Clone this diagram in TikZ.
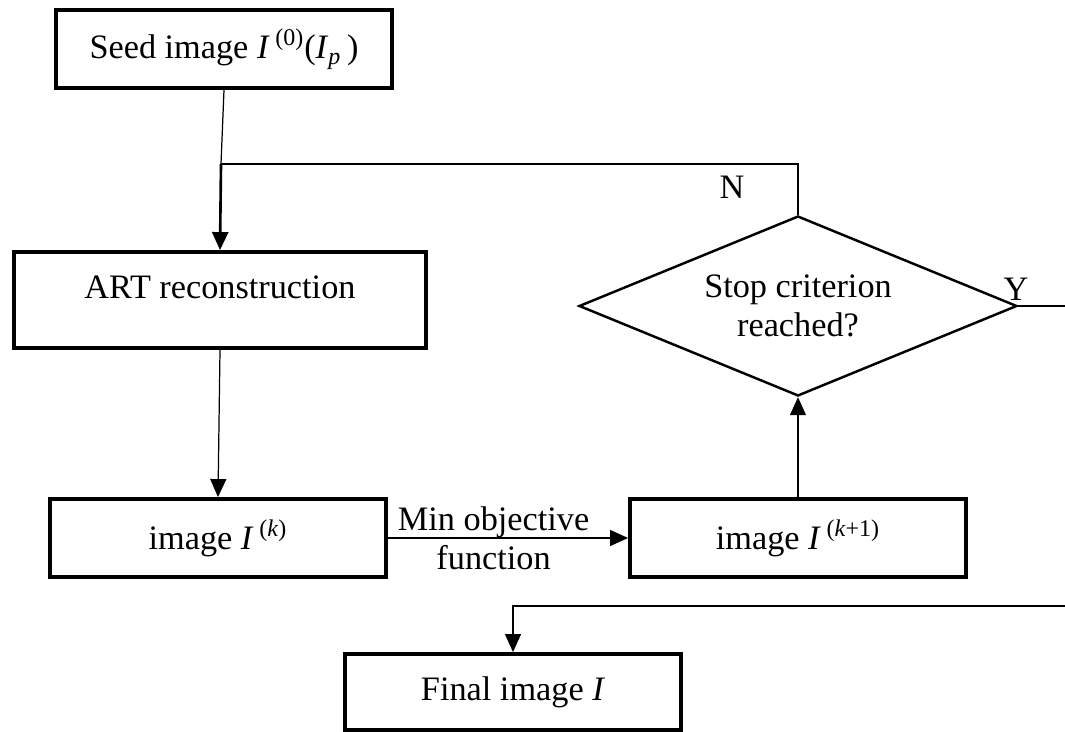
\documentclass[tikz,border=0pt]{standalone}
\usepackage{fontspec}
\setmainfont{Liberation Serif}
\usetikzlibrary{shapes.geometric}
\usetikzlibrary{arrows.meta}

\begin{document}
\begin{tikzpicture}
[-,line width=0.7pt,%
  box/.style={draw,line width=2.2pt,minimum width=6.72cm,minimum height=1.56cm,inner sep=0pt},%
  test/.style={draw,shape=diamond,aspect=2.43,line width=1.4pt,minimum width=8.76cm,minimum height=3.6cm,inner sep=0pt,align=center},%
  flow/.style={-{Triangle[length=0.36cm,width=0.32cm]}},%
  bigflow/.style={flow,line width=1.5pt}]
\fontsize{19.5}{22}\selectfont
\clip (0,0) rectangle (21.3,-14.64);
\node[box] (seed) at (4.48,-0.98) {Seed image \textit{I}\,\textsuperscript{(0)}(\textit{I}\textsubscript{\textit{p}}\,)};
\node[box,minimum width=8.24cm,minimum height=1.92cm,text depth=0.52cm] (art) at (4.40,-6.00) {ART reconstruction};
\node[box] (imgk) at (4.36,-10.76) {image \textit{I}\,\textsuperscript{(\textit{k})}};
\node[box] (imgk1) at (15.96,-10.76) {image \textit{I}\,\textsuperscript{(\textit{k}+1)}};
\node[test] (stop) at (15.96,-6.12) {Stop criterion\\reached?};
\node[box,minimum height=1.52cm] (final) at (10.26,-13.84) {Final image \textit{I}};
\node (no) at (14.64,-3.74) {N};
\node (yes) at (20.32,-5.78) {Y};
\coordinate (jn) at (4.42,-3.28);
\coordinate (out) at (21.4,-12.12);
% loop back
\draw (seed.south) -- (jn);
\draw[bigflow] (jn) -- (art.north);
\draw (stop.north) |- (jn);
\draw[flow] (art.south) -- (imgk.north);
\draw[flow] (imgk.east) -- node[pos=0.44,align=center] (minf) {Min objective\\function} (imgk1.west);
\draw[flow] (imgk1.north) -- (stop.south);
% exit
\draw[flow] (stop.east) -| (out) -| (final.north);
\end{tikzpicture}
\end{document}
